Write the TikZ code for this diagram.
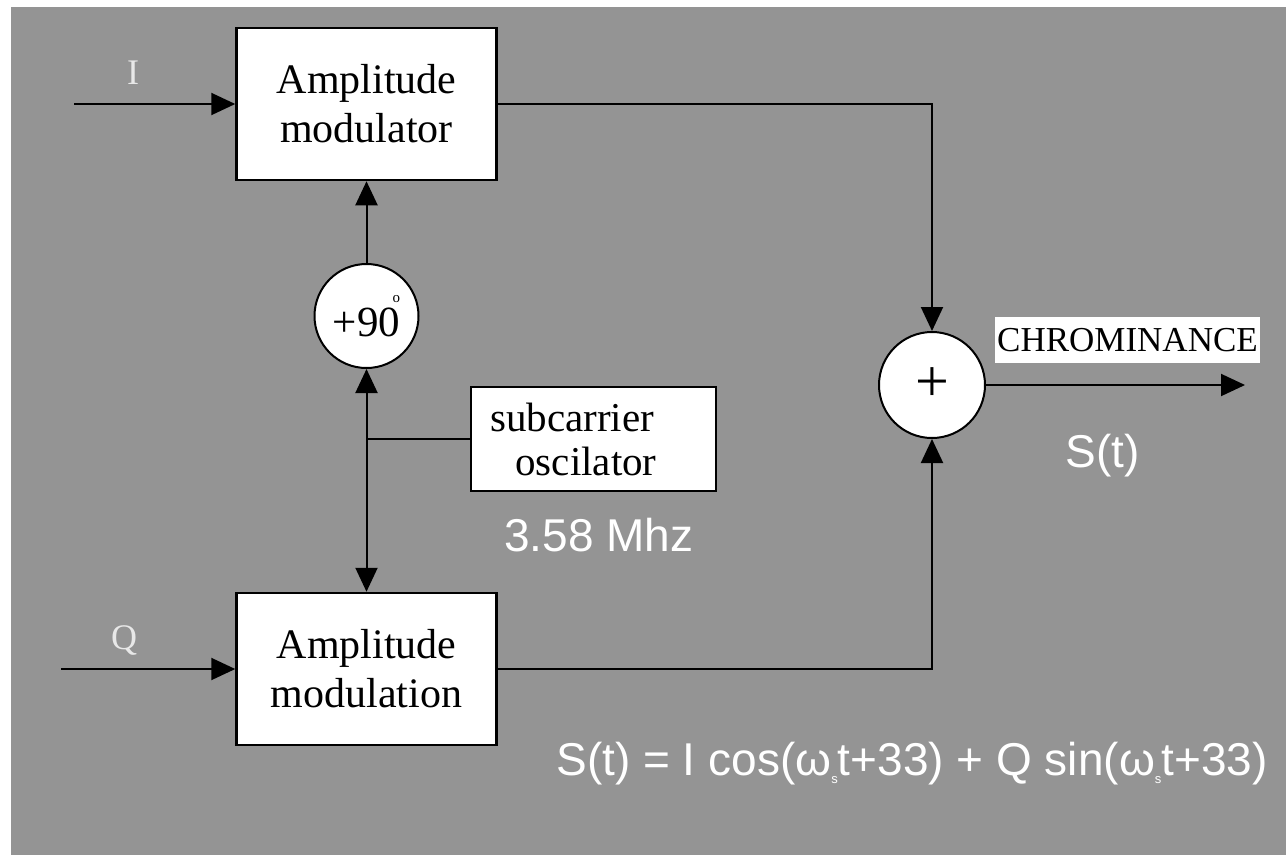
\documentclass[tikz,border=0pt]{standalone}
\usepackage{fontspec}
\setmainfont{Liberation Serif}
\newfontfamily\arialfont{Liberation Sans}
\usepackage{xcolor}
\usetikzlibrary{arrows.meta,positioning,calc}
\definecolor{bggray}{RGB}{148,148,148}
\definecolor{labgray}{RGB}{232,232,232}
\newcommand{\omsub}{\raisebox{-8pt}{\fontsize{13}{13}\selectfont s}}

\begin{document}
\begin{tikzpicture}[
  x=1pt,y=1pt,
  font=\fontsize{42}{49}\selectfont,
  box/.style={draw,line width=2.5pt,fill=white,align=center,inner sep=0pt},
  mod/.style={box,minimum width=260pt,minimum height=152pt},
  circ/.style={circle,draw,line width=2pt,fill=white,inner sep=0pt},
  lab/.style={text=labgray,font=\fontsize{36}{36}\selectfont},
  val/.style={text=white,font=\arialfont\fontsize{46}{46}\selectfont},
  wire/.style={line width=2pt},
  arr/.style={wire,-{Triangle[length=24pt,width=22pt]}},
  darr/.style={wire,{Triangle[length=24pt,width=22pt]}-{Triangle[length=24pt,width=22pt]}}
]
\fill[white] (0,0) rectangle (1286,-855);
\fill[bggray] (11,-7) rectangle (1286,-855);
\useasboundingbox (0,0) rectangle (1286,-855);
\node[mod] (am1) at (366.5,-104) {Amplitude\\modulator};
\node[mod] (am2) at (366.5,-669) {Amplitude\\modulation};
\node[circ,minimum size=104pt,font=\fontsize{43}{43}\selectfont] (ph) at (366.5,-316) {+90\llap{\raisebox{34pt}{\fontsize{15}{15}\selectfont o}}};
\node[box,minimum width=245pt,minimum height=104pt,font=\fontsize{41}{44}\selectfont] (osc) at (593.5,-439) {subcarrier\hspace*{43pt}\\oscilator\hspace*{15pt}};
\node[circ,minimum size=106pt,font=\fontsize{60}{60}\selectfont] (sum) at (932,-385) {+};
\node[fill=white,inner sep=0pt,minimum width=265pt,minimum height=46pt,font=\fontsize{35}{35}\selectfont] (chr) at (1127.5,-340) {CHROMINANCE};
\coordinate (iin) at (74,-104);
\coordinate (qin) at (61,-669);
\coordinate (out) at (1245,-381);
\node[lab] (il) at (133,-73) {I};
\node[lab] (ql) at (124,-640) {Q};
\node[val] (fq) at (599,-535) {3.58 Mhz};
\node[val] (st) at (1103,-456) {S(t)};
\node[val] (eq) at (912,-764) {S(t) = I cos(ω\omsub t+33) + Q sin(ω\omsub t+33)};
\draw[arr] (iin) -- (am1);
\draw[arr] (qin) -- (am2);
\draw[arr] (ph) -- (am1);
\draw[darr] (ph) -- (am2);
\draw[wire] (osc) -- (osc -| ph);
\draw[arr] (am1) -| (sum);
\draw[arr] (am2) -| (sum);
\draw[arr] (sum) -- (sum -| out);
\end{tikzpicture}
\end{document}
